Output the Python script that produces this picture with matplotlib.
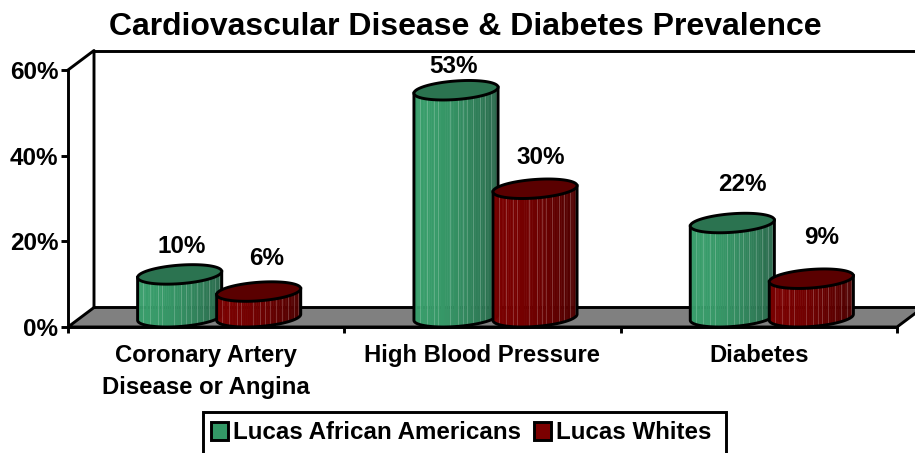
import numpy as np
import matplotlib
matplotlib.use("Agg")
import matplotlib.pyplot as plt
from matplotlib.patches import Patch, Polygon, Rectangle

plt.rcParams['font.family'] = ['Liberation Sans', 'DejaVu Sans']
plt.rcParams['font.weight'] = 'bold'

categories = ["Coronary Artery\nDisease or Angina", "High Blood Pressure", "Diabetes"]
series_names = ["Lucas African Americans", "Lucas Whites"]
african_american = [10, 53, 22]
whites = [6, 30, 9]
y_ticks = [0, 20, 40, 60]

# label nudges in pixels, from the top of each cylinder
green_label_nudge = [(2, 28), (-2, 24), (10, 39)]
red_label_nudge = [(8, 33), (6, 31), (10, 41)]

# stripes on the cylinder sides, as a fraction of the way across
stripes = [0.07, 0.15, 0.24, 0.29, 0.43, 0.52, 0.58, 0.63, 0.70, 0.78, 0.85, 0.92, 0.97]

fig = plt.figure(figsize=(9.15, 4.53), dpi=100)
W, H = 915, 453
ax = fig.add_axes([68 / W, (H - 327) / H, 829 / W, 257 / H])
ax.set_xlim(0, 3)
ax.set_ylim(0, 60)

# size of one pixel in data units
px = 3 / 829
py = 60 / 257
depth_x = 26 * px
depth_y = 19.5 * py
lw = 2.1

ax.patch.set_visible(False)
for side in ['top', 'right']:
    ax.spines[side].set_visible(False)
for side in ['left', 'bottom']:
    ax.spines[side].set_linewidth(lw)
    ax.spines[side].set_capstyle('projecting')

# floor and walls
floor = Polygon([(0, 0), (3, 0), (3 + depth_x, depth_y), (depth_x, depth_y)],
                closed=True, facecolor='#808080', edgecolor='black', linewidth=lw,
                clip_on=False, zorder=1)
ax.add_patch(floor)
ax.plot([0, depth_x, depth_x], [60, 60 + depth_y, depth_y], color='black', lw=lw,
        clip_on=False, zorder=1)
ax.plot([depth_x, 3 + depth_x], [60 + depth_y, 60 + depth_y], color='black', lw=lw,
        clip_on=False, zorder=1)


def cylinder(xc, value, side_left, side_right, top_color, z):
    cx = xc + depth_x / 2
    cy = depth_y / 2
    w = 40 * px
    ex = lambda t: cx + np.cos(t) * w + np.sin(t) * depth_x / 2
    ey = lambda t: np.sin(t) * depth_y / 2

    t0 = np.pi + np.arctan2(13, 40)
    ts = np.linspace(t0, t0 + np.pi, 61)
    left = np.array(side_left)
    right = np.array(side_right)
    span = ex(ts[-1]) - ex(ts[0])
    for a, b in zip(ts[:-1], ts[1:]):
        frac = (ex((a + b) / 2) - ex(ts[0])) / span
        col = left + (right - left) * frac ** 2
        ax.add_patch(Polygon([(ex(a), cy + ey(a)), (ex(b), cy + ey(b)),
                              (ex(b), cy + ey(b) + value), (ex(a), cy + ey(a) + value)],
                             closed=True, facecolor=col, edgecolor=col, linewidth=0.4,
                             clip_on=False, zorder=z))
    # thin light stripes
    fine = np.linspace(ts[0], ts[-1], 400)
    fracs = (ex(fine) - ex(ts[0])) / span
    for s in stripes:
        t = fine[np.argmin(abs(fracs - s))]
        ax.plot([ex(t), ex(t)], [cy + ey(t), cy + ey(t) + value], color='white', lw=0.7,
                alpha=0.2, clip_on=False, zorder=z + 0.1)

    # outline of the side
    edge_x = np.r_[ex(ts[0]), ex(ts), ex(ts[-1])]
    edge_y = np.r_[cy + ey(ts[0]) + value, cy + ey(ts), cy + ey(ts[-1]) + value]
    ax.plot(edge_x, edge_y, color='black', lw=lw, clip_on=False, zorder=z + 0.2)

    # top
    tt = np.linspace(0, 2 * np.pi, 121)
    ax.add_patch(Polygon(np.c_[ex(tt), cy + ey(tt) + value], closed=True, facecolor=top_color,
                         edgecolor='black', linewidth=lw, clip_on=False, zorder=z + 0.3))
    return cx, cy + value


offset = 39.5 * px
green_left, green_right = (0.22, 0.62, 0.42), (0.16, 0.40, 0.29)
red_left, red_right = (0.48, 0.0, 0.0), (0.30, 0.0, 0.0)
for i in range(3):
    mid = i + 0.5
    z = 3 + i * 2
    gx, gy = cylinder(mid - offset, african_american[i], green_left, green_right, '#2B7350', z)
    rx, ry = cylinder(mid + offset, whites[i], red_left, red_right, '#5A0000', z + 1)
    ax.annotate(f"{african_american[i]}%", (gx, gy), xytext=green_label_nudge[i],
                textcoords='offset pixels', ha='center', va='center', fontsize=17.5,
                annotation_clip=False, zorder=20)
    ax.annotate(f"{whites[i]}%", (rx, ry), xytext=red_label_nudge[i],
                textcoords='offset pixels', ha='center', va='center', fontsize=17.5,
                annotation_clip=False, zorder=20)

# axis ticks and labels
ax.set_yticks(y_ticks)
ax.set_yticklabels([f"{v}%" for v in y_ticks], fontsize=17.5)
ax.tick_params(axis='y', length=5, width=lw, pad=2)
ax.set_xticks([0, 1, 2, 3])
ax.set_xticklabels([])
ax.tick_params(axis='x', which='major', length=4.5, width=lw)
ax.set_xticks([0.5, 1.5, 2.5], minor=True)
ax.set_xticklabels(categories, minor=True, fontsize=17.2, linespacing=1.5, va='top')
ax.tick_params(axis='x', which='minor', length=0, pad=12)

fig.text(465 / W, 1 - 27 / H, "Cardiovascular Disease & Diabetes Prevalence",
         ha='center', va='center', fontsize=23)

# legend box runs off the bottom of the picture
fig.add_artist(Rectangle((203 / W, 1 - 470 / H), 523 / W, 58 / H, transform=fig.transFigure,
                         facecolor='white', edgecolor='black', linewidth=lw))
handles = [Patch(facecolor='#339966', edgecolor='black', linewidth=lw),
           Patch(facecolor='#7B0000', edgecolor='black', linewidth=lw)]
leg = fig.legend(handles, series_names, ncol=2, loc='upper left',
                 bbox_to_anchor=(204 / W, 1 - 414 / H), bbox_transform=fig.transFigure,
                 fontsize=17.4, frameon=False,
                 borderaxespad=0, handlelength=0.68, handleheight=0.8, handletextpad=0.22,
                 columnspacing=0.55, borderpad=0.3, labelspacing=0)

fig.savefig("out.png", dpi=100)
